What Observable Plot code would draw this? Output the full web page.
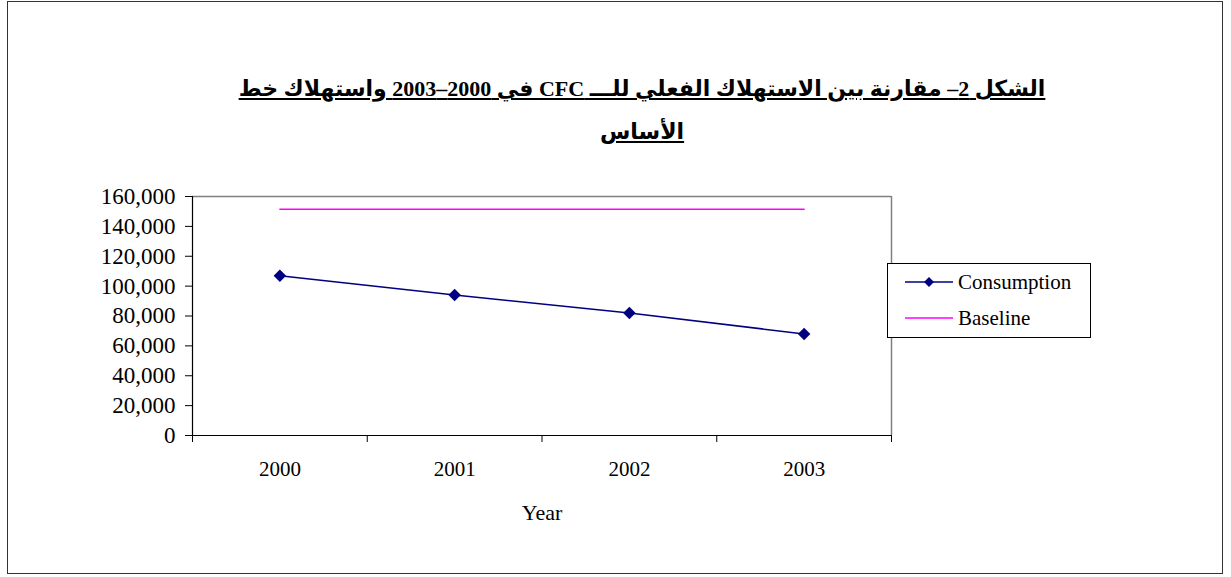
<!DOCTYPE html>
<html>
<head>
<meta charset="utf-8">
<script src="https://cdn.jsdelivr.net/npm/d3@7"></script>
<script src="https://cdn.jsdelivr.net/npm/@observablehq/plot@0.6"></script>
<style>
  html, body { margin: 0; padding: 0; background: #fff; }
  #page { position: relative; width: 1231px; height: 577px; overflow: hidden; }
  #frame { position: absolute; left: 7px; top: 1px; width: 1216px; height: 573px; border: 1px solid #333; box-sizing: border-box; }
  #title { position: absolute; left: 0; top: 67px; width: 1284px; text-align: center; direction: rtl;
           font-family: "Liberation Serif", "DejaVu Sans", serif; font-weight: bold; font-size: 22px;
           line-height: 43px; text-decoration: underline; color: #000; }
  #chart { position: absolute; left: 0; top: 160px; }
  #legend { position: absolute; left: 887px; top: 263px; width: 204px; height: 75px; border: 1px solid #000;
            box-sizing: border-box; background: #fff; font-family: "Liberation Serif", serif; font-size: 21px; color: #000; }
  .row { position: absolute; left: 0; height: 24px; display: flex; align-items: center; }
  .row svg { margin-left: 17px; margin-right: 5px; }
</style>
</head>
<body>
<div id="page">
  <div id="frame"></div>
  <div id="title">الشكل 2– مقارنة بين الاستهلاك الفعلي للـــ <b>CFC</b> في 2000–2003 واستهلاك خط<br>الأساس</div>
  <div id="chart"></div>
  <div id="legend">
    <div class="row" style="top:6px"><svg width="48" height="14"><line x1="0" y1="7" x2="48" y2="7" stroke="#000080" stroke-width="1.5"/><path d="M24,2 L29,7 L24,12 L19,7 Z" fill="#000080"/></svg><span>Consumption</span></div>
    <div class="row" style="top:42px"><svg width="48" height="14"><line x1="0" y1="7" x2="48" y2="7" stroke="#FF00FF" stroke-width="1.5"/></svg><span>Baseline</span></div>
  </div>
</div>
<script>
const years = [2000, 2001, 2002, 2003];
const consumption = [107000, 94000, 82000, 68000];
const baseline = [151500, 151500, 151500, 151500];
const yTicks = [0, 20000, 40000, 60000, 80000, 100000, 120000, 140000, 160000];
const xEdges = [1999.5, 2000.5, 2001.5, 2002.5, 2003.5];
const xTitle = "Year";

const consData = years.map((y, i) => ({year: y, value: consumption[i]}));
const baseData = years.map((y, i) => ({year: y, value: baseline[i]}));

const chart = Plot.plot({
  width: 1231,
  height: 380,
  marginLeft: 192,
  marginRight: 340,
  marginTop: 36,
  marginBottom: 105,
  style: {fontFamily: "Liberation Serif, serif", fontSize: "20px", color: "#000", background: "transparent"},
  x: {domain: [1999.5, 2003.5], axis: null},
  y: {domain: [0, 160000], axis: null},
  marks: [
    Plot.ruleY([160000], {stroke: "#808080", strokeWidth: 1.5}),
    Plot.ruleX([2003.5], {stroke: "#808080", strokeWidth: 1.5}),
    Plot.axisY({ticks: yTicks, tickSize: 7, tickPadding: 10, tickFormat: d3.format(","), label: null, stroke: "#000", fontSize: 23}),
    Plot.axisX({ticks: xEdges, tickSize: 7, tickFormat: () => "", label: null, stroke: "#000"}),
    Plot.axisX({ticks: years, tickSize: 0, tickPadding: 26, tickFormat: d => String(d), label: null, fontSize: 21}),
    Plot.text([xTitle], {frameAnchor: "bottom", dy: 77, lineAnchor: "middle", fontSize: 22, fill: "#000"}),
    Plot.ruleX([1999.5], {stroke: "#000", strokeWidth: 1.2}),
    Plot.ruleY([0], {x1: 1999.5 - 0.04, x2: 2003.5, stroke: "#000", strokeWidth: 1.2}),
    Plot.line(baseData, {x: "year", y: "value", stroke: "#FF00FF", strokeWidth: 1.5}),
    Plot.line(consData, {x: "year", y: "value", stroke: "#000080", strokeWidth: 1.5}),
    Plot.dot(consData, {x: "year", y: "value", symbol: "square", r: 5, rotate: 45, fill: "#000080", stroke: "none"})
  ]
});
document.getElementById("chart").appendChild(chart);
</script>
</body>
</html>
